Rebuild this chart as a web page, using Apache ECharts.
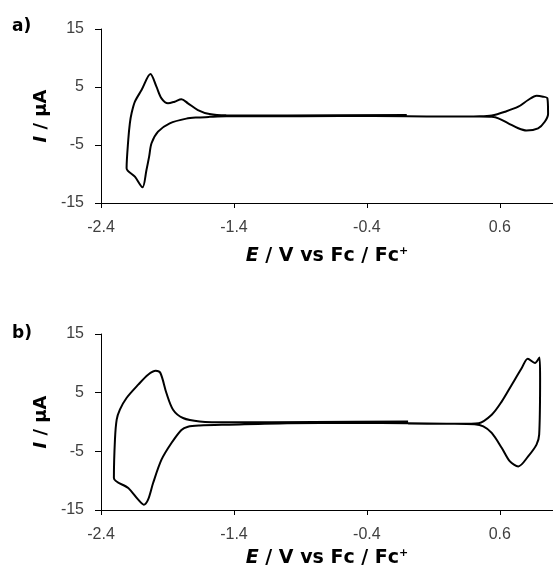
<!DOCTYPE html>
<html>
<head>
<meta charset="utf-8">
<script src="https://cdn.jsdelivr.net/npm/echarts@6/dist/echarts.min.js"></script>
<style>
  html, body { margin: 0; padding: 0; background: #fff; }
  #chart { width: 553px; height: 571px; }
</style>
</head>
<body>
<div id="chart"></div>
<script>
// panel a) potential (V vs Fc/Fc+) and current (uA), in scan order
var potA = [-0.1, 0.2, 0.45, 0.54, 0.639, 0.739, 0.813, 0.877, 0.926, 0.958, 0.963, 0.938, 0.888, 0.80, 0.739, 0.664, 0.589, 0.54, 0.45, 0.2,
  -0.1, -0.6, -1.2, -1.458, -1.584, -1.67, -1.758, -1.883, -1.971, -2.02, -2.038, -2.058, -2.088, -2.145, -2.2075,
  -2.195, -2.183, -2.17, -2.145, -2.095, -2.028, -1.983, -1.945, -1.896, -1.846, -1.795, -1.746, -1.671, -1.584, -1.458, -1.0, -0.1];
var curA = [-0.1, -0.1, -0.05, 0.1, 0.74, 1.6, 2.76, 3.5, 3.33, 3.05, 0.4, -1.0, -2.12, -2.5, -2.12, -1.26, -0.4, -0.15, -0.1, -0.1,
  -0.05, 0.0, -0.05, -0.05, -0.15, -0.25, -0.45, -1.26, -2.7, -4.7, -7.0, -9.3, -12.3, -10.47, -9.0,
  -4.14, -1.26, 0.47, 2.47, 4.48, 7.24, 5.05, 3.05, 2.19, 2.47, 2.88, 2.19, 1.03, 0.34, 0.12, 0.1, 0.17];

// panel b)
var potB = [-0.09, 0.3, 0.44, 0.539, 0.615, 0.69, 0.765, 0.81, 0.864, 0.898, 0.903, 0.896, 0.876, 0.813, 0.739, 0.676, 0.615, 0.539, 0.476, 0.41, 0.2,
  -0.09, -0.5, -1.0, -1.434, -1.658, -1.746, -1.795, -1.87, -1.945, -2.008, -2.046, -2.078, -2.12, -2.195, -2.303,
  -2.295, -2.282, -2.258, -2.208, -2.12, -2.046, -1.988, -1.953, -1.908, -1.858, -1.783, -1.658, -1.434, -0.8, -0.09];
var curB = [-0.3, -0.3, -0.2, 1.24, 3.51, 6.36, 9.2, 10.79, 10.06, 11.0, 7.5, -2.16, -3.86, -5.86, -7.57, -6.72, -4.43, -1.87, -0.75, -0.4, -0.3,
  -0.2, -0.15, -0.2, -0.45, -0.6, -0.8, -1.35, -3.58, -6.42, -10.4, -13.24, -14.1, -13.24, -11.25, -9.54,
  -3.0, 0.39, 2.1, 4.09, 6.36, 8.06, 8.74, 8.35, 4.94, 2.1, 0.68, 0.1, -0.05, 0.0, 0.1];

var xTicks = [-2.4, -1.4, -0.4, 0.6];
var yTicks = [-15, -5, 5, 15];

function pairs(xs, ys) {
  return xs.map(function (x, i) { return [x, ys[i]]; });
}

var font = '"Liberation Sans", Arial, sans-serif';
var titleFont = '"DejaVu Sans", sans-serif';

function xAxisFor(gridIndex, gap) {
  return {
    type: 'value', gridIndex: gridIndex,
    min: xTicks[0], max: 1.0, interval: 1,
    axisLine: { onZero: false, lineStyle: { color: '#000', width: 1 } },
    axisTick: { length: 5, lineStyle: { color: '#000' } },
    splitLine: { show: false },
    axisLabel: {
      color: '#404040', fontSize: 16, fontFamily: font, margin: 17,
      showMaxLabel: false,
      formatter: function (v) { return v.toFixed(1); }
    },
    name: '{i|E} / V vs Fc / Fc{s|+}',
    nameLocation: 'middle', nameGap: gap,
    nameTextStyle: {
      color: '#000', fontSize: 19, fontWeight: 'bold', fontFamily: titleFont,
      rich: {
        i: { fontStyle: 'italic', fontWeight: 'bold', fontSize: 19, fontFamily: titleFont, color: '#000' },
        s: { fontSize: 11, fontWeight: 'bold', fontFamily: titleFont, color: '#000', padding: [0, 0, 9, 0] }
      }
    }
  };
}

function yAxisFor(gridIndex) {
  return {
    type: 'value', gridIndex: gridIndex,
    min: yTicks[0], max: yTicks[3], interval: 10,
    axisLine: { show: true, onZero: false, lineStyle: { color: '#000', width: 1 } },
    axisTick: { show: true, length: 6, lineStyle: { color: '#000' } },
    splitLine: { show: false },
    axisLabel: { color: '#404040', fontSize: 16, fontFamily: font, margin: 17 },
    name: '{i|I} / μA',
    nameLocation: 'middle', nameGap: 50,
    nameTextStyle: {
      color: '#000', fontSize: 18, fontWeight: 'bold', fontFamily: titleFont,
      rich: {
        i: { fontStyle: 'italic', fontWeight: 'bold', fontSize: 18, fontFamily: titleFont, color: '#000' }
      }
    }
  };
}

var chart = echarts.init(document.getElementById('chart'), null, { renderer: 'canvas' });

var option = {
  animation: false,
  backgroundColor: '#fff',
  grid: [
    { left: 101, top: 29, width: 454, height: 174 },
    { left: 101, top: 334, width: 454, height: 176 }
  ],
  xAxis: [xAxisFor(0, 43), xAxisFor(1, 38)],
  yAxis: [yAxisFor(0), yAxisFor(1)],
  graphic: [
    { type: 'text', left: 12, top: 18, style: { text: 'a)', fontSize: 17, fontWeight: 'bold', fontFamily: titleFont, fill: '#000' } },
    { type: 'text', left: 12, top: 325, style: { text: 'b)', fontSize: 17, fontWeight: 'bold', fontFamily: titleFont, fill: '#000' } }
  ],
  series: [
    {
      type: 'line', xAxisIndex: 0, yAxisIndex: 0,
      data: pairs(potA, curA), showSymbol: false, smooth: 0.3,
      lineStyle: { color: '#000', width: 2 }
    },
    {
      type: 'line', xAxisIndex: 1, yAxisIndex: 1,
      data: pairs(potB, curB), showSymbol: false, smooth: 0.3,
      lineStyle: { color: '#000', width: 2 }
    }
  ]
};

chart.setOption(option);
</script>
</body>
</html>
